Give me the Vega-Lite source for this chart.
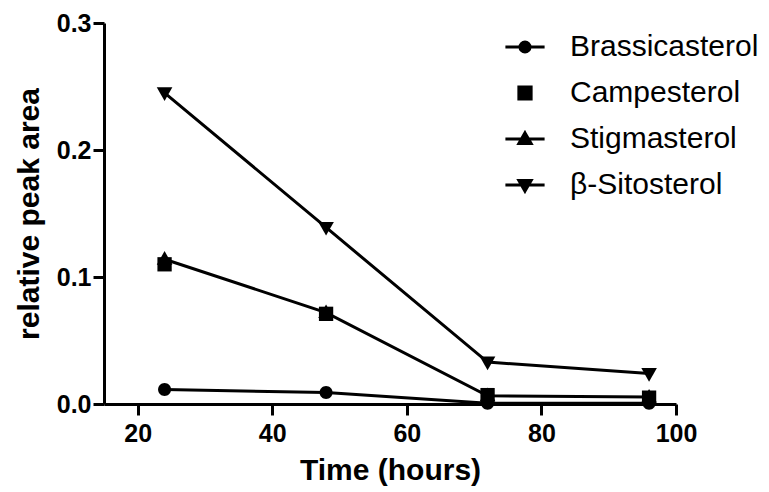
{
  "$schema": "https://vega.github.io/schema/vega-lite/v6.json",
  "width": 572,
  "height": 381,
  "autosize": {"type": "none"},
  "padding": {"left": 104, "top": 23, "right": 93, "bottom": 88},
  "background": "white",
  "config": {
    "view": {"stroke": null},
    "font": "Liberation Sans",
    "axis": {
      "grid": false,
      "domainColor": "black",
      "domainWidth": 3,
      "tickColor": "black",
      "tickWidth": 3,
      "tickSize": 11,
      "labelFont": "Liberation Sans",
      "labelFontWeight": "bold",
      "labelFontSize": 25,
      "labelColor": "black",
      "titleFont": "Liberation Sans",
      "titleFontWeight": "bold",
      "titleFontSize": 30,
      "titleColor": "black"
    }
  },
  "data": {
    "values": [
      {"series": "Brassicasterol", "time": 24, "value": 0.0115},
      {"series": "Brassicasterol", "time": 48, "value": 0.009},
      {"series": "Brassicasterol", "time": 72, "value": 0.0005},
      {"series": "Brassicasterol", "time": 96, "value": 0.0005},
      {"series": "Campesterol", "time": 24, "value": 0.110},
      {"series": "Campesterol", "time": 48, "value": 0.071},
      {"series": "Campesterol", "time": 72, "value": 0.007},
      {"series": "Campesterol", "time": 96, "value": 0.005},
      {"series": "Stigmasterol", "time": 24, "value": 0.114},
      {"series": "Stigmasterol", "time": 48, "value": 0.072},
      {"series": "Stigmasterol", "time": 72, "value": 0.0065},
      {"series": "Stigmasterol", "time": 96, "value": 0.0055},
      {"series": "β-Sitosterol", "time": 24, "value": 0.245},
      {"series": "β-Sitosterol", "time": 48, "value": 0.139},
      {"series": "β-Sitosterol", "time": 72, "value": 0.033},
      {"series": "β-Sitosterol", "time": 96, "value": 0.024}
    ]
  },
  "encoding": {
    "x": {
      "field": "time",
      "type": "quantitative",
      "title": "Time (hours)",
      "scale": {"domain": [15, 100], "nice": false, "zero": false},
      "axis": {"values": [20, 40, 60, 80, 100], "labelPadding": 6, "titlePadding": 9, "labelFlush": false}
    },
    "y": {
      "field": "value",
      "type": "quantitative",
      "title": "relative peak area",
      "scale": {"domain": [0, 0.3], "nice": false},
      "axis": {"values": [0, 0.1, 0.2, 0.3], "format": ".1f", "labelPadding": 2, "titlePadding": 12, "labelFlush": false}
    }
  },
  "layer": [
    {
      "transform": [{"filter": "datum.series !== 'Campesterol'"}],
      "mark": {"type": "line", "color": "black", "strokeWidth": 3},
      "encoding": {"detail": {"field": "series"}}
    },
    {
      "mark": {"type": "point", "filled": true, "color": "black", "opacity": 1, "size": 169},
      "encoding": {
        "shape": {
          "field": "series",
          "type": "nominal",
          "scale": {
            "domain": ["Brassicasterol", "Campesterol", "Stigmasterol", "β-Sitosterol"],
            "range": [
              "M1,0A1,1,0,1,1,-1,0A1,1,0,1,1,1,0Z",
              "M-1.1,-1.1L1.1,-1.1L1.1,1.1L-1.1,1.1Z",
              "M0,-1.25L1.2,0.85L-1.2,0.85Z",
              "M0,1.25L1.2,-0.85L-1.2,-0.85Z"
            ]
          },
          "legend": null
        }
      }
    },
    {
      "transform": [{"filter": "false"}],
      "mark": {"type": "point", "filled": false, "fill": "black", "stroke": "black", "color": "black", "strokeWidth": 3, "opacity": 1, "size": 150},
      "encoding": {
        "shape": {
          "field": "series",
          "type": "nominal",
          "scale": {
            "domain": ["Brassicasterol", "Campesterol", "Stigmasterol", "β-Sitosterol"],
            "range": [
              "M-3.2,0L3.2,0M0.82,0A0.82,0.82,0,1,1,-0.82,0A0.82,0.82,0,1,1,0.82,0Z",
              "M-1,-1L1,-1L1,1L-1,1Z",
              "M-3.2,0L3.2,0M0,-1L1,0.75L-1,0.75Z",
              "M-3.2,0L3.2,0M0,1L1,-0.75L-1,-0.75Z"
            ]
          },
          "legend": {
            "title": null,
            "orient": "none",
            "legendX": 406,
            "legendY": 9,
            "padding": 0,
            "symbolSize": 150,
            "symbolStrokeWidth": 3,
            "symbolFillColor": "black",
            "labelFont": "Liberation Sans",
            "labelFontSize": 30,
            "labelColor": "black",
            "labelLimit": 400,
            "labelOffset": 30,
            "rowPadding": 16,
            "symbolOpacity": 1
          }
        }
      }
    }
  ],
  "resolve": {"scale": {"shape": "independent"}, "legend": {"shape": "independent"}}
}
